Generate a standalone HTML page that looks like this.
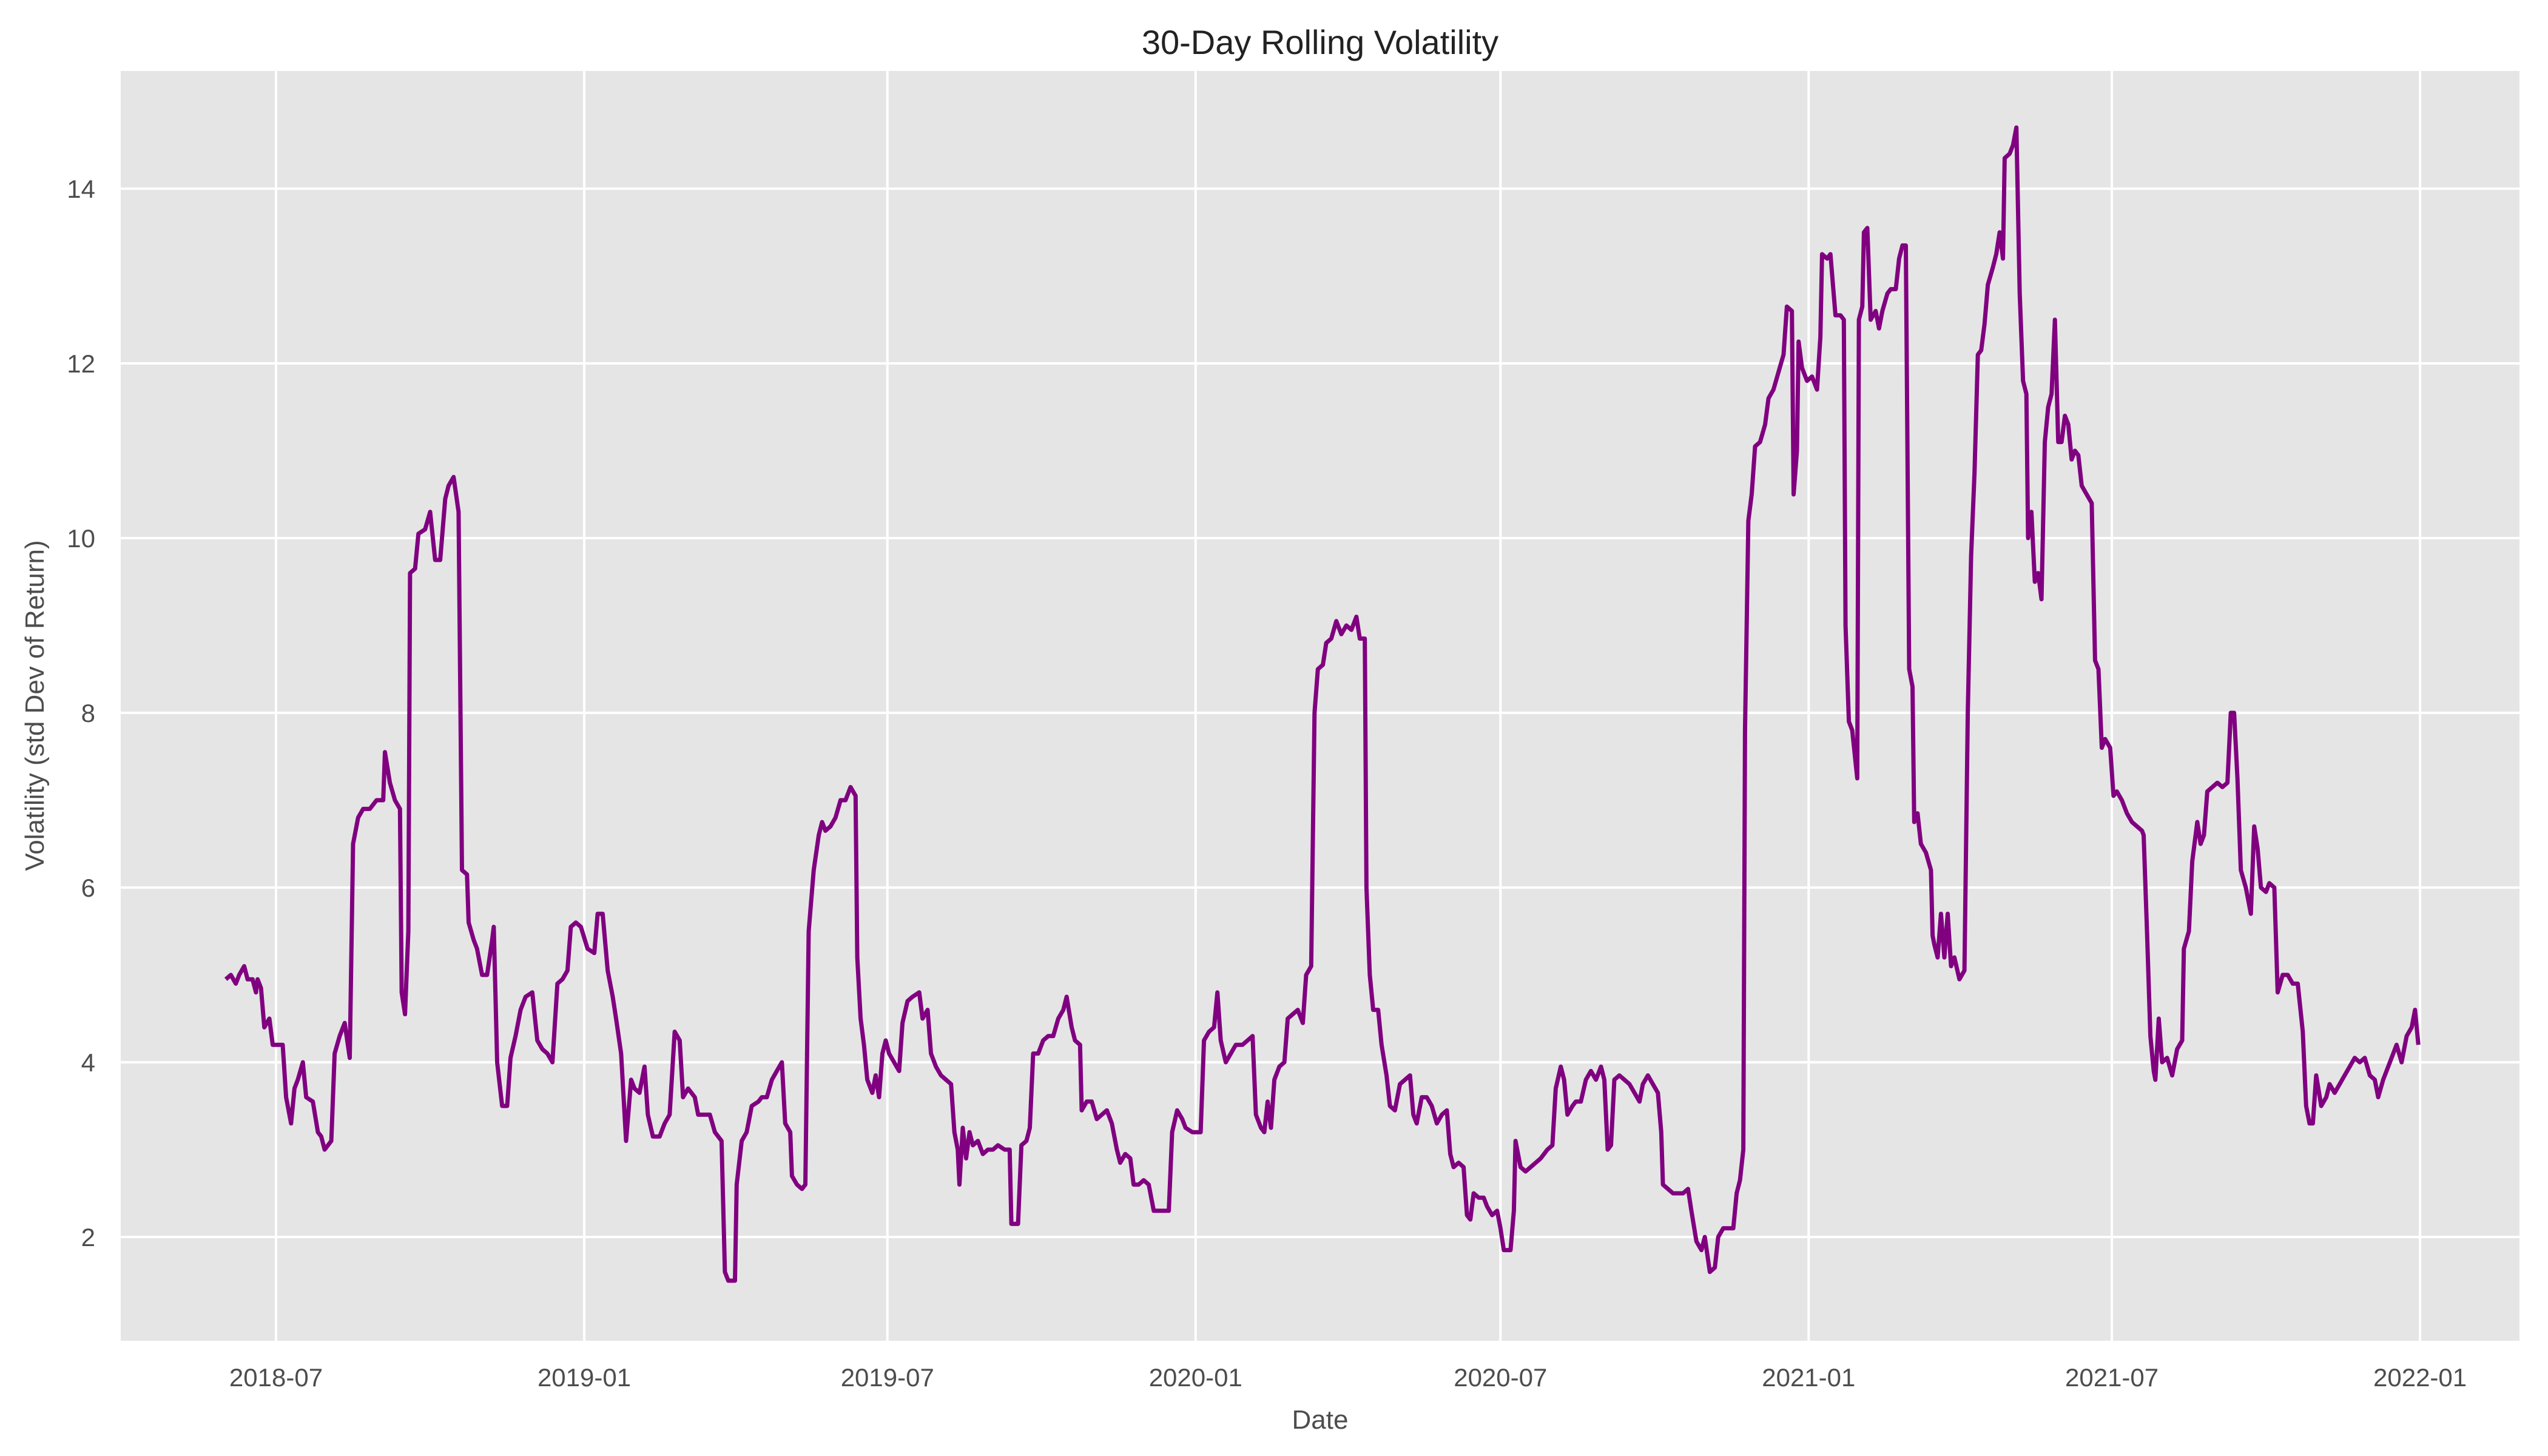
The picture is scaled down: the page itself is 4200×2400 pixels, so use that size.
<!DOCTYPE html>
<html><head><meta charset="utf-8"><style>
html,body{margin:0;padding:0;background:#fff;}
svg{display:block;font-family:"Liberation Sans",sans-serif;}
</style></head><body>
<svg id="chart" width="4200" height="2400" viewBox="0 0 4200 2400" xmlns="http://www.w3.org/2000/svg">
<rect x="199" y="117" width="3954" height="2093" fill="#e5e5e5"/>
<g id="grid"></g>
<g id="yticks"></g>
<g id="xticks"></g>
<path id="line" fill="none" stroke="#800080" stroke-width="7" stroke-linejoin="round"/>
<text x="2176" y="89" text-anchor="middle" font-size="56" fill="#222">30-Day Rolling Volatility</text>
<text x="2176" y="2355" text-anchor="middle" font-size="44" fill="#4d4d4d">Date</text>
<text transform="translate(72,1163) rotate(-90)" text-anchor="middle" font-size="44" fill="#4d4d4d">Volatility (std Dev of Return)</text>
</svg>
<script>
const startDate = "2018-06-01";
const days = [0,3,6,8,11,13,16,18,19,21,23,26,28,31,34,36,39,41,43,46,48,52,55,57,59,63,65,68,71,74,76,79,82,86,90,94,95,98,101,104,105,107,109,110,113,115,119,122,125,128,131,133,136,139,141,144,145,148,150,153,156,159,160,162,165,168,170,173,176,179,183,186,189,192,195,198,201,204,206,209,212,216,220,222,225,228,231,233,236,239,242,244,247,250,252,255,259,262,265,268,271,273,276,280,282,286,289,292,296,298,300,304,305,308,311,314,318,320,323,326,329,332,334,337,338,341,344,346,348,351,354,356,358,361,364,367,370,373,376,377,379,381,383,386,388,390,392,394,396,399,402,404,407,410,414,416,419,421,424,427,430,433,435,437,438,440,442,444,446,449,452,455,458,461,465,468,469,473,475,478,480,482,485,488,491,494,497,500,502,505,507,510,511,514,517,520,523,526,529,532,534,537,540,542,545,548,551,554,557,561,563,565,568,571,573,577,580,582,584,587,590,592,594,597,600,603,607,610,613,615,618,620,622,624,626,629,632,634,637,640,643,645,648,650,652,655,657,660,663,666,669,672,675,677,680,681,683,685,688,690,693,695,698,701,704,707,709,711,714,717,720,723,726,729,731,733,736,739,741,743,745,748,751,753,756,759,761,763,767,769,770,773,776,779,782,785,789,792,794,797,799,801,804,806,809,812,815,818,821,823,825,827,829,832,835,838,841,844,846,849,852,855,857,858,861,864,867,870,873,875,878,881,883,886,889,891,894,897,900,902,904,906,907,909,911,913,916,919,921,924,927,930,932,935,936,938,939,941,944,947,950,952,953,956,958,961,964,966,967,969,971,974,975,977,978,980,982,985,987,989,992,994,997,999,1001,1003,1005,1007,1008,1010,1012,1015,1018,1019,1020,1022,1024,1026,1028,1030,1032,1035,1038,1040,1042,1044,1046,1048,1050,1052,1055,1057,1059,1061,1062,1065,1067,1069,1071,1073,1075,1076,1078,1080,1082,1084,1086,1088,1090,1092,1094,1096,1098,1100,1102,1104,1106,1108,1111,1114,1116,1118,1120,1122,1125,1127,1129,1132,1135,1138,1141,1144,1145,1147,1149,1151,1152,1154,1156,1159,1162,1165,1168,1169,1172,1174,1177,1179,1181,1183,1186,1189,1192,1195,1197,1199,1201,1203,1206,1209,1211,1213,1215,1218,1220,1223,1225,1228,1231,1234,1237,1240,1242,1244,1246,1248,1251,1254,1256,1259,1262,1265,1268,1271,1274,1277,1280,1283,1285,1288,1291,1294,1296,1299,1302,1305,1307,1309];
const values = [4.95,5.0,4.9,5.0,5.1,4.95,4.95,4.8,4.95,4.85,4.4,4.5,4.2,4.2,4.2,3.6,3.3,3.7,3.8,4.0,3.6,3.55,3.2,3.15,3.0,3.1,4.1,4.3,4.45,4.05,6.5,6.8,6.9,6.9,7.0,7.0,7.55,7.2,7.0,6.9,4.8,4.55,5.5,9.6,9.65,10.05,10.1,10.3,9.75,9.75,10.45,10.6,10.7,10.3,6.2,6.15,5.6,5.4,5.3,5.0,5.0,5.4,5.55,4.0,3.5,3.5,4.05,4.3,4.6,4.75,4.8,4.25,4.15,4.1,4.0,4.9,4.95,5.05,5.55,5.6,5.55,5.3,5.25,5.7,5.7,5.05,4.75,4.5,4.1,3.1,3.8,3.7,3.65,3.95,3.4,3.15,3.15,3.3,3.4,4.35,4.25,3.6,3.7,3.6,3.4,3.4,3.4,3.2,3.1,1.6,1.5,1.5,2.6,3.1,3.2,3.5,3.55,3.6,3.6,3.8,3.9,4.0,3.3,3.2,2.7,2.6,2.55,2.6,5.5,6.2,6.6,6.75,6.65,6.7,6.8,7.0,7.0,7.15,7.05,5.2,4.5,4.2,3.8,3.65,3.85,3.6,4.1,4.25,4.1,4.0,3.9,4.45,4.7,4.75,4.8,4.5,4.6,4.1,3.95,3.85,3.8,3.75,3.2,3.0,2.6,3.25,2.9,3.2,3.05,3.1,2.95,3.0,3.0,3.05,3.0,3.0,2.15,2.15,3.05,3.1,3.25,4.1,4.1,4.25,4.3,4.3,4.5,4.6,4.75,4.4,4.25,4.2,3.45,3.55,3.55,3.35,3.4,3.45,3.3,3.0,2.85,2.95,2.9,2.6,2.6,2.65,2.6,2.3,2.3,2.3,2.3,3.2,3.45,3.35,3.25,3.2,3.2,3.2,4.25,4.35,4.4,4.8,4.25,4.0,4.1,4.2,4.2,4.25,4.3,3.4,3.25,3.2,3.55,3.25,3.8,3.95,4.0,4.5,4.55,4.6,4.45,5.0,5.1,8.0,8.5,8.55,8.8,8.85,9.05,8.9,9.0,8.95,9.1,8.85,8.85,6.0,5.0,4.6,4.6,4.2,3.85,3.5,3.45,3.75,3.8,3.85,3.4,3.3,3.6,3.6,3.5,3.3,3.4,3.45,2.95,2.8,2.85,2.8,2.25,2.2,2.5,2.45,2.45,2.35,2.25,2.3,2.1,1.85,1.85,2.3,3.1,2.8,2.75,2.8,2.85,2.9,3.0,3.05,3.7,3.95,3.8,3.4,3.5,3.55,3.55,3.8,3.9,3.8,3.95,3.8,3.0,3.05,3.8,3.85,3.8,3.75,3.65,3.55,3.75,3.85,3.75,3.65,3.2,2.6,2.55,2.5,2.5,2.5,2.55,2.3,1.95,1.85,2.0,1.6,1.65,2.0,2.1,2.1,2.1,2.5,2.65,3.0,7.8,10.2,10.5,11.05,11.1,11.3,11.6,11.7,11.9,12.1,12.65,12.6,10.5,11.0,12.25,11.95,11.8,11.85,11.7,12.3,13.25,13.2,13.25,12.55,12.55,12.5,9.0,7.9,7.8,7.25,12.5,12.65,13.5,13.55,12.5,12.6,12.4,12.6,12.8,12.85,12.85,13.2,13.35,13.35,8.5,8.3,6.75,6.85,6.5,6.4,6.2,5.45,5.35,5.2,5.7,5.2,5.7,5.1,5.2,4.95,5.05,8.0,9.8,10.75,12.1,12.15,12.45,12.9,13.1,13.25,13.5,13.2,14.35,14.4,14.5,14.7,12.8,11.8,11.65,10.0,10.3,9.5,9.6,9.3,11.1,11.5,11.65,12.5,11.1,11.1,11.4,11.3,10.9,11.0,10.95,10.6,10.5,10.4,8.6,8.5,7.6,7.7,7.6,7.05,7.1,7.0,6.85,6.75,6.7,6.65,6.6,5.5,4.3,3.9,3.8,4.5,4.0,4.05,3.85,4.15,4.25,5.3,5.5,6.3,6.75,6.5,6.6,7.1,7.15,7.2,7.15,7.2,8.0,8.0,7.25,6.2,6.0,5.7,6.7,6.45,6.0,5.95,6.05,6.0,4.8,5.0,5.0,4.9,4.9,4.35,3.5,3.3,3.3,3.85,3.5,3.6,3.75,3.65,3.75,3.85,3.95,4.05,4.0,4.05,3.85,3.8,3.6,3.8,3.95,4.1,4.2,4.0,4.3,4.4,4.6,4.2];
const yTicks = [2,4,6,8,10,12,14];
const xTickLabels = ["2018-07","2019-01","2019-07","2020-01","2020-07","2021-01","2021-07","2022-01"];

const NS = "http://www.w3.org/2000/svg";
const PL = 199, PR = 4153, PT = 117, PB = 2210;
const DAY_MS = 86400000;
const t0 = Date.parse("2018-07-01T00:00:00Z");
const PX_PER_DAY = 2.761, X0 = 455;
function xOfDate(ms){ return X0 + (ms - t0) / DAY_MS * PX_PER_DAY; }
const startMs = Date.parse(startDate + "T00:00:00Z");
function xOfDay(d){ return xOfDate(startMs + d * DAY_MS); }
const Y2 = 2039, PX_PER_UNIT = 144;
function yOf(v){ return Y2 - (v - 2) * PX_PER_UNIT; }

const grid = document.getElementById("grid");
const yt = document.getElementById("yticks");
const xt = document.getElementById("xticks");
yTicks.forEach(v => {
  const y = yOf(v);
  const l = document.createElementNS(NS, "line");
  l.setAttribute("x1", PL); l.setAttribute("x2", PR);
  l.setAttribute("y1", y); l.setAttribute("y2", y);
  l.setAttribute("stroke", "#fff"); l.setAttribute("stroke-width", "4");
  
  
  grid.appendChild(l);
  const t = document.createElementNS(NS, "text");
  t.setAttribute("x", 157); t.setAttribute("y", y + 15);
  t.setAttribute("text-anchor", "end"); t.setAttribute("font-size", "42");
  t.setAttribute("fill", "#4d4d4d");
  t.textContent = v;
  
  
  yt.appendChild(t);
});
xTickLabels.forEach(s => {
  const x = xOfDate(Date.parse(s + "-01T00:00:00Z"));
  const l = document.createElementNS(NS, "line");
  l.setAttribute("x1", x); l.setAttribute("x2", x);
  l.setAttribute("y1", PT); l.setAttribute("y2", PB);
  l.setAttribute("stroke", "#fff"); l.setAttribute("stroke-width", "4");
  
  
  grid.appendChild(l);
  const t = document.createElementNS(NS, "text");
  t.setAttribute("x", x); t.setAttribute("y", 2285);
  t.setAttribute("text-anchor", "middle"); t.setAttribute("font-size", "42");
  t.setAttribute("fill", "#4d4d4d");
  t.textContent = s;
  
  
  xt.appendChild(t);
});
let d = "";
for (let i = 0; i < days.length; i++) {
  d += (i ? "L" : "M") + xOfDay(days[i]).toFixed(1) + "," + yOf(values[i]).toFixed(1);
}
document.getElementById("line").setAttribute("d", d);
</script>
</body></html>
